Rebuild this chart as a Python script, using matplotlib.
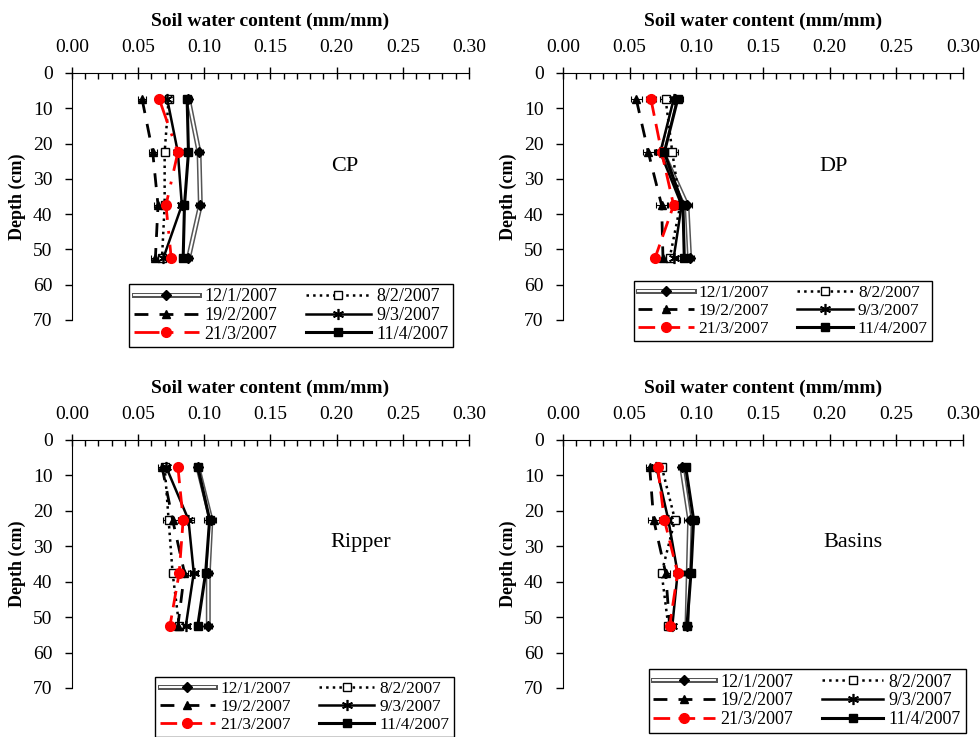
import matplotlib
matplotlib.use("Agg")
import matplotlib.pyplot as plt
from matplotlib.lines import Line2D
from matplotlib.legend_handler import HandlerTuple
from matplotlib.ticker import MultipleLocator, FormatStrFormatter

plt.rcParams['font.family'] = ['Liberation Serif', 'DejaVu Serif']

################################################################################
# Data (soil water content, mm/mm) at four sampling depths
depth = [7.5, 22.5, 37.5, 52.5]
dates = ["12/1/2007", "8/2/2007", "19/2/2007", "9/3/2007", "21/3/2007", "11/4/2007"]
panels = ["CP", "DP", "Ripper", "Basins"]

cp = {
    "12/1/2007": [0.088, 0.096, 0.097, 0.088],
    "8/2/2007":  [0.073, 0.070, 0.070, 0.068],
    "19/2/2007": [0.053, 0.061, 0.065, 0.063],
    "9/3/2007":  [0.072, 0.080, 0.083, 0.069],
    "21/3/2007": [0.066, 0.080, 0.071, 0.075],
    "11/4/2007": [0.087, 0.088, 0.085, 0.084],
}
dp = {
    "12/1/2007": [0.084, 0.075, 0.093, 0.095],
    "8/2/2007":  [0.077, 0.082, 0.088, 0.080],
    "19/2/2007": [0.055, 0.064, 0.074, 0.075],
    "9/3/2007":  [0.083, 0.073, 0.089, 0.083],
    "21/3/2007": [0.066, 0.074, 0.083, 0.069],
    "11/4/2007": [0.086, 0.076, 0.090, 0.091],
}
ripper = {
    "12/1/2007": [0.095, 0.105, 0.103, 0.103],
    "8/2/2007":  [0.070, 0.073, 0.076, 0.081],
    "19/2/2007": [0.068, 0.076, 0.085, 0.080],
    "9/3/2007":  [0.071, 0.088, 0.092, 0.086],
    "21/3/2007": [0.080, 0.084, 0.081, 0.074],
    "11/4/2007": [0.095, 0.104, 0.101, 0.095],
}
basins = {
    "12/1/2007": [0.089, 0.095, 0.094, 0.093],
    "8/2/2007":  [0.074, 0.084, 0.074, 0.079],
    "19/2/2007": [0.065, 0.068, 0.077, 0.080],
    "9/3/2007":  [0.070, 0.079, 0.086, 0.082],
    "21/3/2007": [0.071, 0.076, 0.086, 0.080],
    "11/4/2007": [0.092, 0.098, 0.096, 0.093],
}
# rough standard errors, same for every date within a panel
err_cp = [0.003, 0.003, 0.003, 0.003]
err_dp = [0.004, 0.004, 0.004, 0.003]
err_ripper = [0.003, 0.004, 0.003, 0.003]
err_basins = [0.003, 0.004, 0.003, 0.003]

panel_data = [cp, dp, ripper, basins]
panel_err = [err_cp, err_dp, err_ripper, err_basins]
################################################################################

styles = {
    "8/2/2007":  dict(color='k', ls=':', lw=1.8, marker='s', mfc='white', mec='k', ms=6),
    "19/2/2007": dict(color='k', ls=(0, (5, 4)), lw=2.0, marker='^', ms=6),
    "9/3/2007":  dict(color='k', ls='-', lw=1.8, marker=(6, 2, 0), ms=8, mew=1.2),
    "21/3/2007": dict(color='red', ls=(0, (6, 3)), lw=2.0, marker='o', ms=7),
    "11/4/2007": dict(color='k', ls='-', lw=2.2, marker='s', ms=6),
}

# axes boxes in figure fractions
boxes = [(0.0735, 0.566, 0.405, 0.335),
         (0.5745, 0.566, 0.408, 0.335),
         (0.0735, 0.0665, 0.405, 0.3365),
         (0.5745, 0.0665, 0.408, 0.3365)]
legend_pos = [(0.552, 0.018), (0.55, 0.036), (0.586, -0.077), (0.611, -0.052)]
legend_fs = [13, 12.5, 12.5, 13]
legend_hl = [3.6, 3.2, 3.2, 3.4]
label_pos = [(0.206, 26.5), (0.203, 26.5), (0.218, 29.0), (0.2175, 29.0)]

fig = plt.figure(figsize=(9.8, 7.37), dpi=100)

for i in range(4):
    ax = fig.add_axes(boxes[i])
    data = panel_data[i]
    err = panel_err[i]

    for d in dates:
        ax.errorbar(data[d], depth, xerr=err, fmt='none', ecolor='k',
                    elinewidth=0.8, capsize=2.5, capthick=0.8, zorder=2)

    # double line for 12/1/2007
    x = data["12/1/2007"]
    ax.plot(x, depth, color='#555555', lw=3.6, zorder=3)
    ax.plot(x, depth, color='white', lw=1.4, marker='D', mfc='k', mec='k',
            ms=5, zorder=3)

    handles = {}
    handles["12/1/2007"] = (Line2D([], [], color='#555555', lw=3.6),
                            Line2D([], [], color='white', lw=1.4, marker='D',
                                   mfc='k', mec='k', ms=5))
    for d in dates[1:]:
        st = dict(styles[d])
        if i == 0 and d == "21/3/2007":
            st['ls'] = (0, (9, 4, 1, 4))
        ax.plot(data[d], depth, zorder=4, **st)
        handles[d] = Line2D([], [], **st)

    ax.set_xlim(0, 0.30)
    ax.set_ylim(70, 0)
    ax.xaxis.tick_top()
    ax.xaxis.set_label_position('top')
    ax.xaxis.set_major_locator(MultipleLocator(0.05))
    ax.xaxis.set_minor_locator(MultipleLocator(0.01))
    ax.xaxis.set_major_formatter(FormatStrFormatter('%.2f'))
    ax.yaxis.set_major_locator(MultipleLocator(10))
    ax.spines['right'].set_visible(False)
    ax.spines['bottom'].set_visible(False)
    ax.tick_params(axis='x', which='major', direction='inout', length=9,
                   width=1, labelsize=14, pad=8)
    ax.tick_params(axis='x', which='minor', direction='in', length=4, width=1)
    ax.tick_params(axis='y', which='major', direction='out', length=5,
                   width=1, labelsize=14, pad=9)
    ax.set_xlabel("Soil water content (mm/mm)", fontweight='bold',
                  fontsize=14, labelpad=9)
    ax.set_ylabel("Depth (cm)", fontweight='bold', fontsize=13, labelpad=5)

    ax.text(label_pos[i][0], label_pos[i][1], panels[i], fontsize=16,
            ha='center', va='center')

    order = ["12/1/2007", "19/2/2007", "21/3/2007",
             "8/2/2007", "9/3/2007", "11/4/2007"]
    leg = ax.legend([handles[d] for d in order], order, ncol=2, loc='center',
                    bbox_to_anchor=legend_pos[i], frameon=True, fancybox=False,
                    edgecolor='k', framealpha=1, fontsize=legend_fs[i],
                    handlelength=legend_hl[i], handletextpad=0.3,
                    columnspacing=1.6, labelspacing=0.1, borderpad=0.25,
                    handler_map={tuple: HandlerTuple(ndivide=1, pad=0)})
    leg.get_frame().set_linewidth(1)
    leg.set_zorder(10)

plt.savefig("out.png", dpi=100)
plt.close()
